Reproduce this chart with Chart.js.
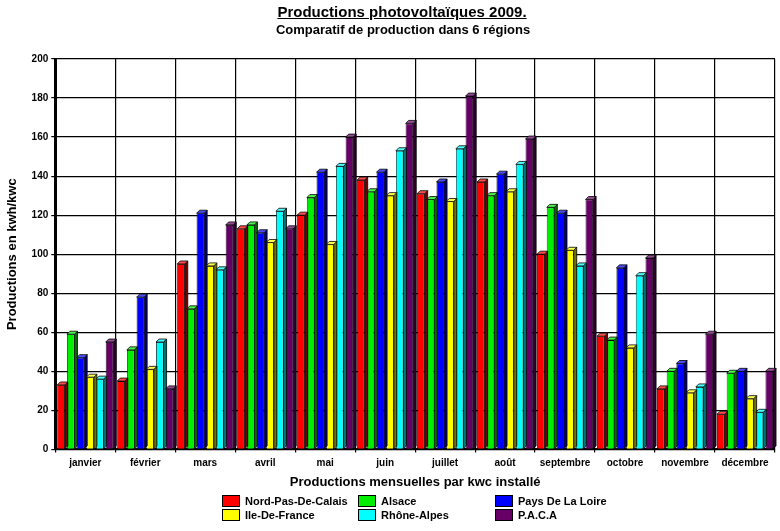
<!DOCTYPE html>
<html>
<head>
<meta charset="utf-8">
<script src="https://cdn.jsdelivr.net/npm/chart.js@4/dist/chart.umd.min.js"></script>
<style>
  html, body { margin: 0; padding: 0; background: #fff; }
  #wrap { position: relative; width: 780px; height: 531px; font-family: "Liberation Sans", Arial, sans-serif; }
  #titre { position: absolute; left: 0; width: 804px; top: 3px; text-align: center; font: bold 15px "Liberation Sans", Arial, sans-serif; text-decoration: underline; }
  #soustitre { position: absolute; left: 0; width: 806px; top: 22px; text-align: center; font: bold 13px "Liberation Sans", Arial, sans-serif; }
  #legend { position: absolute; left: 222px; top: 495px; font: bold 11px "Liberation Sans", Arial, sans-serif; color: #000; }
  .item { position: absolute; white-space: nowrap; }
  .box { display: inline-block; width: 16px; height: 10px; border: 1px solid #000; vertical-align: -2px; margin-right: 5px; }
  canvas { position: absolute; left: 0; top: 0; }
</style>
</head>
<body>
<div id="wrap">
  <canvas id="graph" width="780" height="531"></canvas>
  <div id="titre">Productions photovoltaïques 2009.</div>
  <div id="soustitre">Comparatif de production dans 6 régions</div>
  <div id="legend"></div>
</div>
<script>
const mois = ["janvier", "février", "mars", "avril", "mai", "juin", "juillet", "août", "septembre", "octobre", "novembre", "décembre"];
const regions = ["Nord-Pas-De-Calais", "Alsace", "Pays De La Loire", "Ile-De-France", "Rhône-Alpes", "P.A.C.A"];
const nordPasDeCalais = [33, 35, 95, 113, 120, 138, 131, 137, 100, 58, 31, 18];
const alsace = [59, 51, 72, 115, 129, 132, 128, 130, 124, 56, 40, 39];
const paysDeLaLoire = [47, 78, 121, 111, 142, 142, 137, 141, 121, 93, 44, 40];
const ileDeFrance = [37, 41, 94, 106, 105, 130, 127, 132, 102, 52, 29, 26];
const rhoneAlpes = [36, 55, 92, 122, 145, 153, 154, 146, 94, 89, 32, 19];
const paca = [55, 31, 115, 113, 160, 167, 181, 159, 128, 98, 59, 40];
const yTicks = [0, 20, 40, 60, 80, 100, 120, 140, 160, 180, 200];

const couleurs = ["#ff0000", "#00ee00", "#0000ff", "#ffff00", "#00ffff", "#660066"];
const series = [nordPasDeCalais, alsace, paysDeLaLoire, ileDeFrance, rhoneAlpes, paca];

function shade(hex, f) {
    let r = parseInt(hex.substr(1, 2), 16), g = parseInt(hex.substr(3, 2), 16), b = parseInt(hex.substr(5, 2), 16);
    if (f < 1) { r *= f; g *= f; b *= f; }
    else { r += (255 - r) * (f - 1); g += (255 - g) * (f - 1); b += (255 - b) * (f - 1); }
    return "rgb(" + Math.round(r) + "," + Math.round(g) + "," + Math.round(b) + ")";
}

// petit effet 3D sur chaque barre
const relief = {
    id: "relief",
    afterDatasetsDraw(chart) {
        const ctx = chart.ctx;
        const d = 3;
        chart.data.datasets.forEach((ds, i) => {
            const meta = chart.getDatasetMeta(i);
            meta.data.forEach(bar => {
                const l = bar.x - bar.width / 2, r = bar.x + bar.width / 2;
                const top = bar.y, base = bar.base;
                ctx.save();
                ctx.lineWidth = 0.8;
                ctx.strokeStyle = "#000";
                ctx.fillStyle = shade(ds.backgroundColor, 0.45);
                ctx.beginPath();
                ctx.moveTo(r, top); ctx.lineTo(r + d, top - d); ctx.lineTo(r + d, base - d); ctx.lineTo(r, base);
                ctx.closePath(); ctx.fill(); ctx.stroke();
                ctx.fillStyle = shade(ds.backgroundColor, 1.3);
                ctx.beginPath();
                ctx.moveTo(l, top); ctx.lineTo(l + d, top - d); ctx.lineTo(r + d, top - d); ctx.lineTo(r, top);
                ctx.closePath(); ctx.fill(); ctx.stroke();
                ctx.restore();
            });
        });
    }
};

Chart.defaults.font.family = "'Liberation Sans', Arial, sans-serif";
Chart.defaults.color = "#000";

new Chart(document.getElementById("graph"), {
    type: "bar",
    data: {
        labels: mois,
        datasets: series.map((v, i) => ({
            label: regions[i],
            data: v,
            backgroundColor: couleurs[i],
            borderColor: "#000",
            borderWidth: 0.8,
            barPercentage: 0.78,
            categoryPercentage: 0.97
        }))
    },
    plugins: [relief],
    options: {
        responsive: false,
        animation: false,
        layout: { padding: { left: 5, right: 5, top: 59, bottom: 41 } },
        plugins: {
            legend: { display: false },
            tooltip: { enabled: false }
        },
        scales: {
            x: {
                grid: { color: "#000", lineWidth: 1.2, offset: true, drawTicks: true, tickLength: 3 },
                border: { color: "#000", width: 2 },
                ticks: { font: { size: 10, weight: "bold" }, maxRotation: 0, padding: 5 },
                title: {
                    display: true,
                    text: "Productions mensuelles par kwc installé",
                    font: { size: 13, weight: "bold" },
                    padding: { top: 0, bottom: 0 }
                }
            },
            y: {
                min: 0,
                max: 200,
                afterBuildTicks: axis => { axis.ticks = yTicks.map(v => ({ value: v })); },
                grid: { color: "#000", lineWidth: 1.2, tickLength: 4 },
                border: { color: "#000", width: 3 },
                ticks: { font: { size: 10, weight: "bold" }, padding: 3 },
                title: {
                    display: true,
                    text: "Productions en kwh/kwc",
                    font: { size: 13, weight: "bold" },
                    padding: { top: 0, bottom: 8 }
                }
            }
        }
    }
});

// légende sur trois colonnes, comme l'original
const colX = [0, 136, 273];
const leg = document.getElementById("legend");
const ordre = [[0, 0, 0], [1, 1, 0], [2, 2, 0], [3, 0, 1], [4, 1, 1], [5, 2, 1]];
ordre.forEach(([i, c, r]) => {
    const el = document.createElement("div");
    el.className = "item";
    el.style.left = colX[c] + "px";
    el.style.top = (r * 14) + "px";
    el.innerHTML = '<span class="box" style="background:' + couleurs[i] + '"></span>' + regions[i];
    leg.appendChild(el);
});
</script>
</body>
</html>
